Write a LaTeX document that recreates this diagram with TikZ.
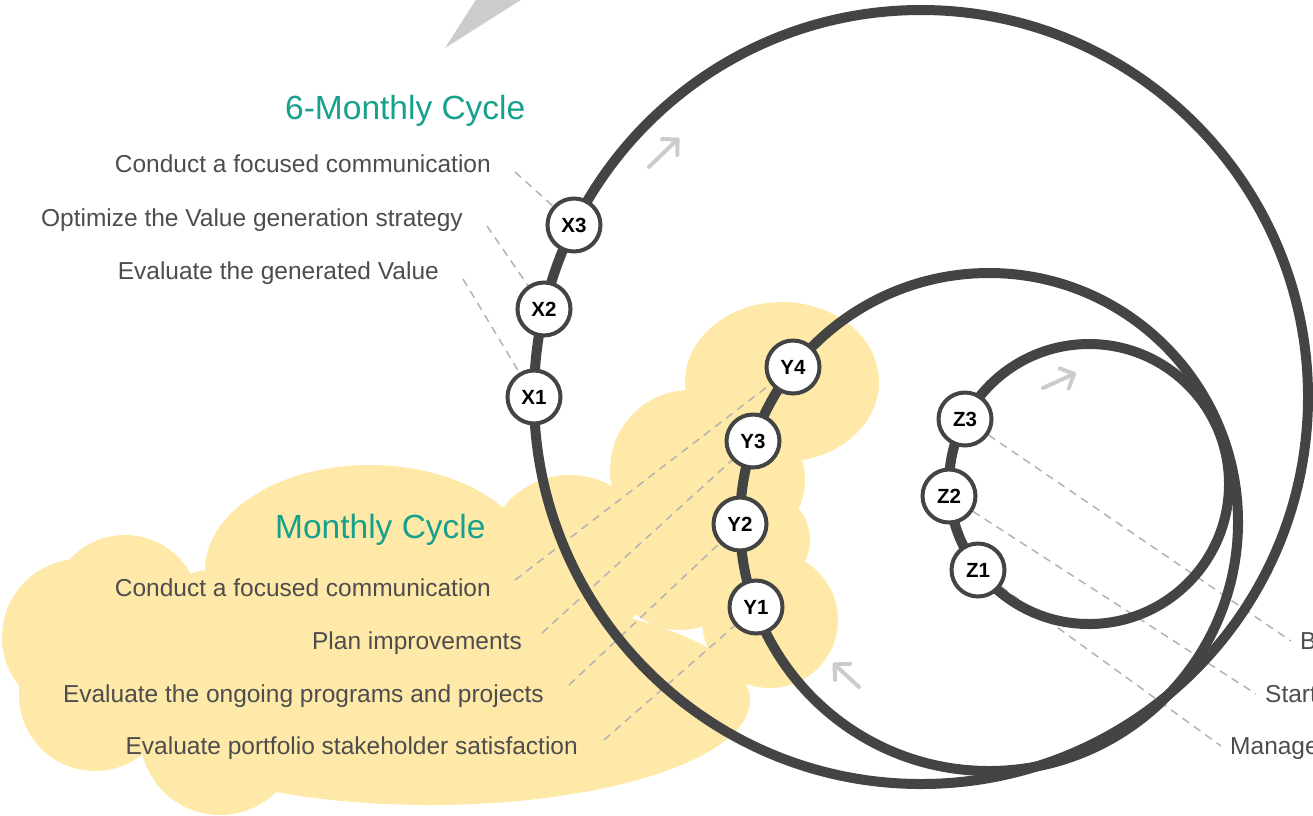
\documentclass[tikz,border=0pt]{standalone}
\usepackage{fontspec}
\setmainfont{Liberation Sans}
\usetikzlibrary{arrows.meta}
\definecolor{ring}{HTML}{444444}
\definecolor{cloudy}{HTML}{FEE9A8}
\definecolor{titlecol}{HTML}{17A08C}
\definecolor{lbl}{HTML}{4D4D4D}
\definecolor{dashcol}{HTML}{B3B3B3}
\definecolor{arr}{HTML}{CCCCCC}
\pgfdeclarelayer{cloudlayer}
\pgfdeclarelayer{leaderlayer}
\pgfdeclarelayer{ringlayer}
\pgfsetlayers{cloudlayer,leaderlayer,ringlayer,main}
\begin{document}
\begin{tikzpicture}[x=1pt,y=-1pt,
  stage/.style={circle,draw=ring,line width=4pt,fill=white,minimum size=53pt,inner sep=0pt,font=\fontsize{20.5}{22}\selectfont\bfseries},
  lab/.style={text=lbl,inner sep=0pt,font=\fontsize{24.5}{28}\selectfont},
  ttl/.style={text=titlecol,inner sep=0pt,font=\fontsize{33.5}{36}\selectfont},
  leader/.style={draw=dashcol,line width=1.5pt,dash pattern=on 8pt off 6pt},
  ringline/.style={draw=ring,line width=10pt},
  garrow/.style={draw=arr,line width=4pt,line cap=round,-{Straight Barb[length=11pt,width=22pt,round]}}
]
\useasboundingbox (0,0) rectangle (1313,815);

% stage nodes
\node[stage] (X1) at (534,397) {X1};
\node[stage] (X2) at (544,309) {X2};
\node[stage] (X3) at (574,225) {X3};
\node[stage] (Y1) at (756,607) {Y1};
\node[stage] (Y2) at (740,524) {Y2};
\node[stage] (Y3) at (753,441) {Y3};
\node[stage] (Y4) at (793,367) {Y4};
\node[stage] (Z1) at (978,570) {Z1};
\node[stage] (Z2) at (949,496) {Z2};
\node[stage] (Z3) at (965,419) {Z3};

% titles
\node[ttl,anchor=base west] (t6) at (285,119) {6-Monthly Cycle};
\node[ttl,anchor=base west] (tm) at (275,538) {Monthly Cycle};

% labels
\node[lab,anchor=base east] (lx3) at (491,172) {Conduct a focused communication};
\node[lab,anchor=base east] (lx2) at (463,226) {Optimize the Value generation strategy};
\node[lab,anchor=base east] (lx1) at (439,279) {Evaluate the generated Value};
\node[lab,anchor=base east] (ly4) at (491,596) {Conduct a focused communication};
\node[lab,anchor=base east] (ly3) at (522,649) {Plan improvements};
\node[lab,anchor=base east] (ly2) at (544,702) {Evaluate the ongoing programs and projects};
\node[lab,anchor=base east] (ly1) at (578,754) {Evaluate portfolio stakeholder satisfaction};
\node[lab,anchor=base west] (lz3) at (1300,649) {B};
\node[lab,anchor=base west] (lz2) at (1265,702) {Start};
\node[lab,anchor=base west] (lz1) at (1230,754) {Manage};

% cloud
\begin{pgfonlayer}{cloudlayer}
\fill[cloudy] (782,382) ellipse[x radius=97pt,y radius=80pt];
\fill[cloudy] (690,470) circle[radius=80pt];
\fill[cloudy] (740,480) circle[radius=65pt];
\fill[cloudy] (760,540) circle[radius=50pt];
\fill[cloudy] (770,620) circle[radius=68pt];
\fill[cloudy] (430,700) ellipse[x radius=320pt,y radius=105pt];
\fill[cloudy] (95,695) circle[radius=76pt];
\fill[cloudy] (220,735) circle[radius=80pt];
\fill[cloudy] (80,637) circle[radius=78pt];
\fill[cloudy] (125,610) circle[radius=75pt];
\fill[cloudy] (210,620) circle[radius=50pt];
\fill[cloudy] (370,570) ellipse[x radius=165pt,y radius=105pt];
\fill[cloudy] (570,560) circle[radius=85pt];
\fill[cloudy] (680,560) circle[radius=70pt];
\end{pgfonlayer}

% leaders
\begin{pgfonlayer}{leaderlayer}
\draw[leader] ([xshift=24pt]lx3.base east) -- (X3);
\draw[leader] ([xshift=24pt]lx2.base east) -- (X2);
\draw[leader] ([xshift=24pt]lx1.base east) -- (X1);
\draw[leader] ([xshift=24pt,yshift=16pt]ly4.base east) -- (Y4);
\draw[leader] ([xshift=20pt,yshift=16pt]ly3.base east) -- (Y3);
\draw[leader] ([xshift=25pt,yshift=17pt]ly2.base east) -- (Y2);
\draw[leader] ([xshift=26pt,yshift=14pt]ly1.base east) -- (Y1);
\draw[leader] (Z3) -- ([xshift=-9pt,yshift=8pt]lz3.base west);
\draw[leader] (Z2) -- ([xshift=-9pt,yshift=8pt]lz2.base west);
\draw[leader] (Z1) -- ([xshift=-9pt,yshift=8pt]lz1.base west);
\end{pgfonlayer}

% rings
\begin{pgfonlayer}{ringlayer}
\fill[arr] (445,48) -- (477,-2) -- (524,-2) -- cycle;
\draw[ringline] (921,397) circle[radius=387pt];
\draw[ringline] (989,522) circle[radius=249pt];
\draw[ringline] (1089,484) circle[radius=140pt];
\draw[garrow] (649,167) -- (679,138);
\draw[garrow] (1043,388) -- (1076,373);
\draw[garrow] (859,687) -- (833,663);
\end{pgfonlayer}
\end{tikzpicture}
\end{document}
